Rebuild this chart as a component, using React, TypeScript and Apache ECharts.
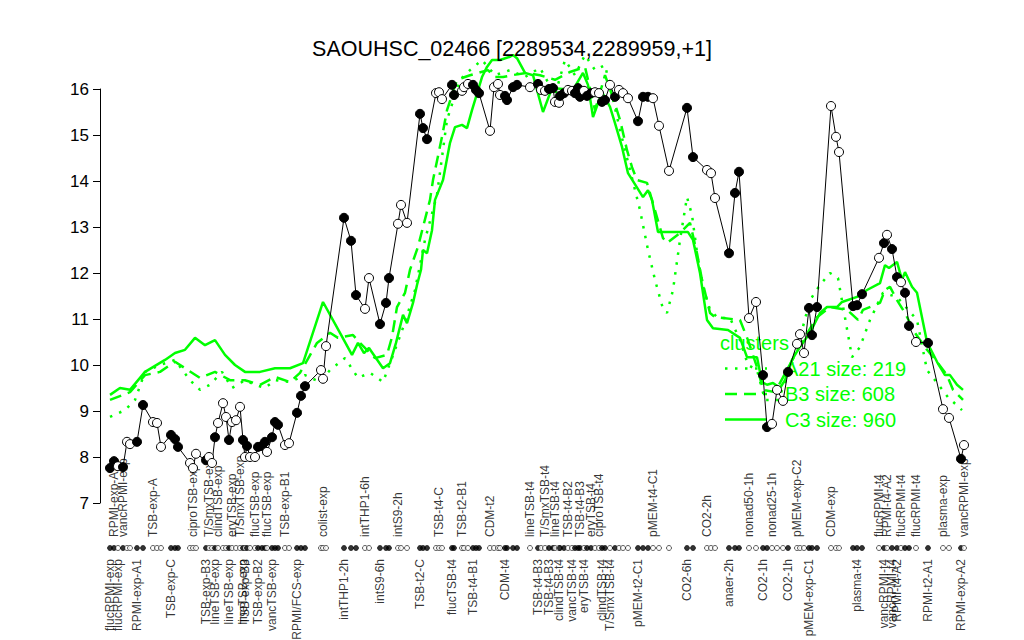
import React, { useEffect, useRef } from "react";
import * as echarts from "echarts";

const FONT = "'Liberation Sans', Arial, Helvetica, sans-serif";
const GREEN = "#00ff00";

const titleText = "SAOUHSC_02466 [2289534,2289959,+1]";
const yTicks = { min: 7, max: 16, step: 1 };

// probe positions along the condition axis (index units), expression values, filled (1) / open (0)
const posX = [2.5,3.5,4.5,5.75,6.75,7.5,9.25,10.75,
13.25,14.25,15.25,
17.75,18.75,19.5,
22.5,23.25,24,
26.5,27.25,28,28.75,29.5,30.75,31.5,32.25,33,34,35,35.75,36.25,36.75,37.5,38.75,39.5,40.5,41.25,41.75,43,43.75,44.5,
46.25,47.25,
49.25,50.25,51.25,
55.25,55.75,56.5,
61,62.75,64,
66.25,67.25,
70,71.5,72.25,
74.5,75.25,76.75,
80,80.75,81.75,
84,84.75,85.5,
88,88.5,
90.5,91,92,
93.25,94,94.75,
97.5,98.5,99.5,100,
101.25,101.75,103.25,104.25,
107.5,
109.5,110.25,111.25,112.25,113.25,113.75,114.75,115,116,117,118,118.75,119.5,120,121,121.75,122.75,123.75,124.75,125.5,126.25,127.5,128.75,129.75,130.75,132,
134.5,135.75,137,138.25,139.75,
142.25,
146.75,148.25,
151.75,152.75,153.75,
157.25,158.75,159.75,
162.25,164,
165.75,166.75,168,169.25,170.75,172,
174.25,175,176,
177.25,178,179.25,
182.75,184,184.75,
188.25,189.25,190.5,
194.75,196,196.75,198,199.25,200.25,201.25,202.25,204,
207,
210.75,212.25,
215.25,216];

const values = [7.76,7.91,7.80,7.78,8.33,8.28,8.33,9.13,
8.76,8.74,8.22,
8.48,8.39,8.22,
7.87,7.76,8.07,
7.93,8.00,7.87,8.43,8.74,9.17,8.87,8.37,8.76,8.80,9.09,8.37,8.00,8.24,8.00,8.00,8.22,8.24,8.33,8.11,8.43,8.76,8.70,
8.26,8.30,
8.96,9.33,9.54,
9.89,9.70,10.41,
13.20,12.70,11.52,
11.22,11.89,
10.89,11.35,11.89,
13.07,13.48,13.09,
15.46,15.15,14.91,
15.91,15.93,15.78,
16.09,15.87,
15.96,16.04,16.11,
16.09,15.98,15.91,
15.09,16.04,16.11,15.87,
15.85,15.76,16.04,16.09,
16.04,
16.11,15.98,15.96,16.00,16.02,15.72,15.70,15.85,15.91,15.98,15.96,15.91,16.02,15.83,15.96,15.85,15.91,15.93,15.91,15.72,15.76,16.09,15.83,15.98,15.91,15.80,
15.30,15.83,15.83,15.80,15.20,
14.22,
15.59,14.52,
14.24,14.17,13.63,
12.43,13.74,14.20,
11.02,11.37,
9.78,8.65,8.72,9.46,9.22,9.85,
10.46,10.67,10.26,
11.24,10.65,11.26,
15.63,14.96,14.63,
11.28,11.30,11.54,
12.33,12.65,12.83,12.52,11.91,11.80,11.57,10.85,10.50,
10.48,
9.04,8.85,
7.96,8.26];

const filled = [1,1,0,1,0,0,1,1,
0,0,0,
1,1,1,
0,0,0,
1,0,0,1,0,0,0,1,0,0,0,1,0,1,0,0,1,1,1,0,1,1,1,
0,0,
1,1,1,
0,0,0,
1,1,1,
0,0,
1,1,1,
0,0,0,
1,1,1,
0,0,0,
1,1,
0,0,0,
1,1,1,
0,0,0,0,
1,1,1,1,
0,
1,0,0,1,1,0,0,1,1,0,0,1,1,1,0,1,1,0,0,1,1,0,1,0,0,0,
1,1,1,0,0,
0,
1,1,
0,0,0,
1,1,1,
0,0,
1,1,0,0,0,1,
0,0,0,
1,1,1,
0,0,0,
1,1,1,
0,1,0,1,1,0,1,1,0,
1,
0,0,
1,0];

// condition labels: [point index, text]
const topLabels: [number, string][] = [
  [1, "RPMI-exp-A2"], [3, "vancRPMI-exp"], [8, "TSB-exp-A"], [15, "ciproTSB-exp"],
  [18, "T/SmxTSB-exp"], [21, "clindTSB-exp"], [25, "eryTSB-exp"], [27, "T/SmxTSB-exp"],
  [32, "flucTSB-exp"], [36, "flucTSB-exp"], [40, "TSB-exp-B1"], [46, "colist-exp"],
  [51, "intTHP1-6h"], [56, "intS9-2h"], [63, "TSB-t4-C"], [67, "TSB-t2-B1"], [73, "CDM-t2"],
  [81, "lineTSB-t4"], [84, "T/SmxTSB-t4"], [87, "lineTSB-t4"], [91, "TSB-t4-B2"],
  [95, "TSB-t4-B3"], [98, "eryTSB-t4"], [100, "ciproTSB-t4"], [111, "pMEM-t4-C1"],
  [116, "CO2-2h"], [122, "nonad50-1h"], [126, "nonad25-1h"], [130, "pMEM-exp-C2"],
  [136, "CDM-exp"], [142, "flucRPMI-t4"], [144, "RPMI-t4-A2"], [147, "flucRPMI-t4"],
  [150, "flucRPMI-t4"], [152, "plasma-exp"], [155, "vancRPMI-exp"],
];
const bottomLabels: [number, string][] = [
  [0, "flucRPMI-exp"], [2, "flucRPMI-exp"], [6, "RPMI-exp-A1"], [11, "TSB-exp-C"],
  [17, "TSB-exp-B3"], [20, "lineTSB-exp"], [24, "lineTSB-exp"], [28, "lineTSB-exp"],
  [29, "TSB-exp-B3"], [33, "TSB-exp-B2"], [37, "vancTSB-exp"], [42, "RPMI/FCS-exp"],
  [48, "intTHP1-2h"], [53, "intS9-6h"], [59, "TSB-t2-C"], [65, "flucTSB-t4"],
  [70, "TSB-t4-B1"], [77, "CDM-t4"], [82, "TSB-t4-B3"], [85, "TSB-t4-B3"],
  [88, "clindTSB-t4"], [92, "vancTSB-t4"], [96, "eryTSB-t4"], [101, "clindTSB-t4"],
  [103, "T/SmxTSB-t4"], [108, "pMEM-t2-C1"], [114, "CO2-6h"], [119, "anaer-2h"],
  [124, "CO2-1h"], [129, "CO2-1h"], [133, "pMEM-exp-C1"], [140, "plasma-t4"],
  [143, "vancRPMI-t4"], [145, "vancRPMI-t4"], [146, "RPMI-t4-A2"], [151, "RPMI-t2-A1"],
  [154, "RPMI-exp-A2"],
];

// cluster mean profiles
const c3X = [2.5,5,7.5,11.25,16.25,18.75,21.25,23.75,26.25,28.75,31.25,33.75,36.25,40,43.75,47.5,50.75,55.75,60,63,64.5,66,67.25,70.75,72.5,74,75.75,76.75,78.25,79.25,80.25,80.75,81.75,83,83.75,85.75,87.5,88.75,90.5,91.75,93,95.5,96.75,98,100,102.5,103.25,104.25,106.25,108.25,110.75,113,118.25,120.75,122,123.25,125.5,127.5,128.75,130.5,132,135.75,137,138,139.5,147,148.25,150,151.75,153.25,157,160,161.75,164.25,165.5,166.75,168.25,170,171.25,173,174.5,177.5,180,181.75,184.25,185.5,189.25,191.75,195,196.25,197.25,199.25,200.5,201.25,203,204.25,206.75,209.25,211.25,212.5,214.25,215.75];
const c3Y = [9.35,9.50,9.46,9.85,10.11,10.26,10.33,10.59,10.43,10.54,10.22,10.00,9.85,9.85,9.93,9.93,10.04,11.37,10.70,10.22,10.48,10.26,10.37,9.93,10.04,10.48,11.09,10.91,11.35,11.74,12.07,12.50,12.43,12.93,13.59,14.02,14.83,15.17,15.22,15.15,15.54,16.26,16.48,16.63,16.63,16.70,16.74,16.67,16.35,16.30,15.50,16.02,15.98,16.35,16.09,15.39,15.93,15.61,15.26,14.74,14.17,13.65,13.80,13.59,12.89,12.89,12.72,12.00,10.98,10.80,10.76,10.59,10.17,10.17,9.63,9.57,9.61,9.50,9.67,10.11,10.33,10.70,11.13,11.26,11.26,11.37,11.48,11.63,11.78,12.17,12.11,12.24,11.85,12.02,11.70,11.57,10.50,10.07,9.78,9.78,9.57,9.46];

const b3X = [2.5,7.5,11.25,15,18.75,21.25,25,28.75,32.5,36.25,40,43.75,47.5,50,54.25,57.5,59.5,63.25,65,68.75,71.75,73,74.25,76.25,77.5,79.5,80.75,82.5,83.25,85.5,86.75,89.25,92.5,97,98.75,100.75,103,106.75,110,113.75,117.5,121.25,123.75,126.25,128,130,131.75,133,134.25,136.75,140.75,141.75,145,147.5,149.25,150.5,152.5,153.75,160,162,164.5,165.75,168.75,175.75,179.25,182.5,186.75,189.5,190.75,195,196.25,197.5,199.25,201.25,203.75,206.75,209.5,211.75,213.25,215.75];
const b3Y = [9.24,9.41,9.78,9.85,10.07,9.93,9.72,9.85,9.67,9.67,9.57,9.74,9.63,9.83,10.48,10.70,10.59,10.65,10.48,10.15,10.22,10.61,11.26,11.57,12.07,12.57,13.00,13.59,14.02,14.96,15.54,16.20,16.30,16.41,16.26,16.26,16.30,16.35,16.30,16.20,16.37,16.48,15.54,16.30,15.87,15.33,14.67,14.30,14.02,13.96,12.76,12.65,12.87,13.09,12.43,11.85,11.13,11.04,10.98,10.54,9.89,9.46,9.41,10.54,11.04,11.26,11.20,10.98,11.20,11.35,11.63,11.70,11.41,11.13,10.70,10.33,10.04,9.78,9.46,9.24];

const a21X = [2.5,6.25,8.75,11.25,15,18.75,22.5,25,27.5,30.5,33,36.25,38.75,41.25,43.75,47.5,51.25,55,57.5,61.25,64.5,67.5,70.75,73,76.25,78.75,81.25,84.25,86.75,90,92.5,95.5,98.75,102.5,106.25,110,113.75,116.25,118.75,121.25,123.75,126.25,128,130,132.5,135,137,138.75,140.5,141.75,143.25,145,146.75,148,149.5,151,152.5,154.5,157.5,160,162,164.25,166.25,169.5,172.5,175,177.5,180,182.5,184.5,188,190,192.5,195.75,199.25,204.25,206.75,208.75,212,215.5];
const a21Y = [8.87,9.02,9.24,9.85,10.00,10.11,9.67,9.46,9.57,9.85,9.50,9.67,9.57,9.50,9.67,9.63,9.78,9.63,9.89,10.15,9.72,9.83,9.63,10.15,10.93,11.63,12.72,13.70,15.33,16.20,16.41,16.63,16.30,16.41,16.26,16.46,15.87,16.63,16.30,16.74,16.41,16.52,15.87,15.11,14.24,13.37,12.50,11.85,11.30,11.13,11.63,12.72,13.65,13.26,12.28,11.63,11.20,11.02,11.02,10.54,10.00,9.89,9.24,9.24,9.89,10.59,11.41,11.74,12.00,11.89,10.17,10.39,10.98,11.57,11.48,10.98,9.89,9.67,9.30,9.02];

const legendTitle = "clusters";
const clusterNames = ["A21", "B3", "C3"];
const clusterSizes = [219, 608, 960];
const clusterDash: (number[] | null)[] = [[2.5, 7.5], [12, 7], null];

const pair = (xs: number[], ys: number[]) => xs.map((x, i) => [x, ys[i]]);

export default function App() {
  const ref = useRef<HTMLDivElement>(null);
  useEffect(() => {
    const chart = echarts.init(ref.current!, null, { renderer: "svg" });

    const pointData = posX.map((x, i) => ({
      value: [x, values[i]],
      itemStyle: { color: filled[i] ? "#000" : "#fff", borderColor: "#000", borderWidth: 1 },
    }));
    const dotData = posX.map((x, i) => ({
      value: [x, 0.5],
      itemStyle: { color: filled[i] ? "#000" : "#fff", borderColor: "#000", borderWidth: 0.8 },
    }));
    const labelSeries = (list: [number, string][], yv: number, align: string) => ({
      type: "scatter",
      xAxisIndex: 1,
      yAxisIndex: 1,
      symbolSize: 0,
      silent: true,
      data: list.map(([idx, text]) => ({ value: [posX[idx], yv], name: text })),
      label: {
        show: true,
        formatter: "{b}",
        rotate: 90,
        position: "inside",
        align,
        verticalAlign: "middle",
        color: "#000",
        fontFamily: FONT,
        fontSize: 12,
      },
      z: 3,
    });

    const lx1 = 725, lx2 = 767, ltx = 785, ly0 = 343, lstep = 25.5;
    const legendEls: any[] = [
      {
        type: "text",
        z: 0,
        style: { text: legendTitle, x: 720, y: ly0, fill: GREEN, font: `20px ${FONT}`, verticalAlign: "middle", textVerticalAlign: "middle" },
      },
    ];
    clusterNames.forEach((n, i) => {
      const y = ly0 + lstep * (i + 1);
      legendEls.push({
        type: "line",
        z: 0,
        shape: { x1: lx1, y1: y, x2: lx2, y2: y },
        style: { stroke: GREEN, lineWidth: 2.5, lineDash: clusterDash[i] || undefined },
      });
      legendEls.push({
        type: "text",
        z: 0,
        style: { text: `${n} size: ${clusterSizes[i]}`, x: ltx, y, fill: GREEN, font: `20px ${FONT}`, verticalAlign: "middle", textVerticalAlign: "middle" },
      });
    });

    const greenLine = (xs: number[], ys: number[], dash: any) => ({
      type: "line",
      xAxisIndex: 0,
      yAxisIndex: 0,
      data: pair(xs, ys),
      symbol: "none",
      clip: false,
      silent: true,
      lineStyle: { color: GREEN, width: 2.5, type: dash || "solid" },
      z: 2,
    });

    chart.setOption({
      animation: false,
      backgroundColor: "#fff",
      title: {
        text: titleText,
        left: "center",
        top: 33,
        textStyle: { fontFamily: FONT, fontSize: 21.5, fontWeight: "normal", color: "#000" },
      },
      grid: [
        { left: 100, right: 44, top: 89, height: 414 },
        { left: 100, right: 44, top: 537, height: 22 },
      ],
      xAxis: [
        { gridIndex: 0, type: "value", min: 0, max: 220, show: false },
        { gridIndex: 1, type: "value", min: 0, max: 220, show: false },
      ],
      yAxis: [
        {
          gridIndex: 0,
          type: "value",
          min: yTicks.min,
          max: yTicks.max,
          interval: yTicks.step,
          axisLine: { show: true, lineStyle: { color: "#000", width: 1 } },
          axisTick: { show: true, length: 7, lineStyle: { color: "#000", width: 1 } },
          axisLabel: { color: "#000", fontSize: 17, fontFamily: FONT, margin: 11 },
          splitLine: { show: false },
        },
        { gridIndex: 1, type: "value", min: 0, max: 1, show: false },
      ],
      graphic: legendEls,
      series: [
        greenLine(a21X, a21Y, clusterDash[0]),
        greenLine(b3X, b3Y, clusterDash[1]),
        greenLine(c3X, c3Y, clusterDash[2]),
        {
          type: "line",
          xAxisIndex: 0,
          yAxisIndex: 0,
          data: pointData,
          symbol: "circle",
          symbolSize: 9,
          showSymbol: true,
          clip: false,
          silent: true,
          lineStyle: { color: "#000", width: 1 },
          z: 5,
        },
        {
          type: "scatter",
          xAxisIndex: 1,
          yAxisIndex: 1,
          data: dotData,
          symbol: "circle",
          symbolSize: 5,
          silent: true,
          z: 4,
        },
        labelSeries(topLabels, 1, "left"),
        labelSeries(bottomLabels, 0, "right"),
      ],
    });
    return () => chart.dispose();
  }, []);
  return (
    <div
      ref={ref}
      style={{ position: "fixed", left: 0, top: 0, width: 1024, height: 640, background: "#fff" }}
    />
  );
}
